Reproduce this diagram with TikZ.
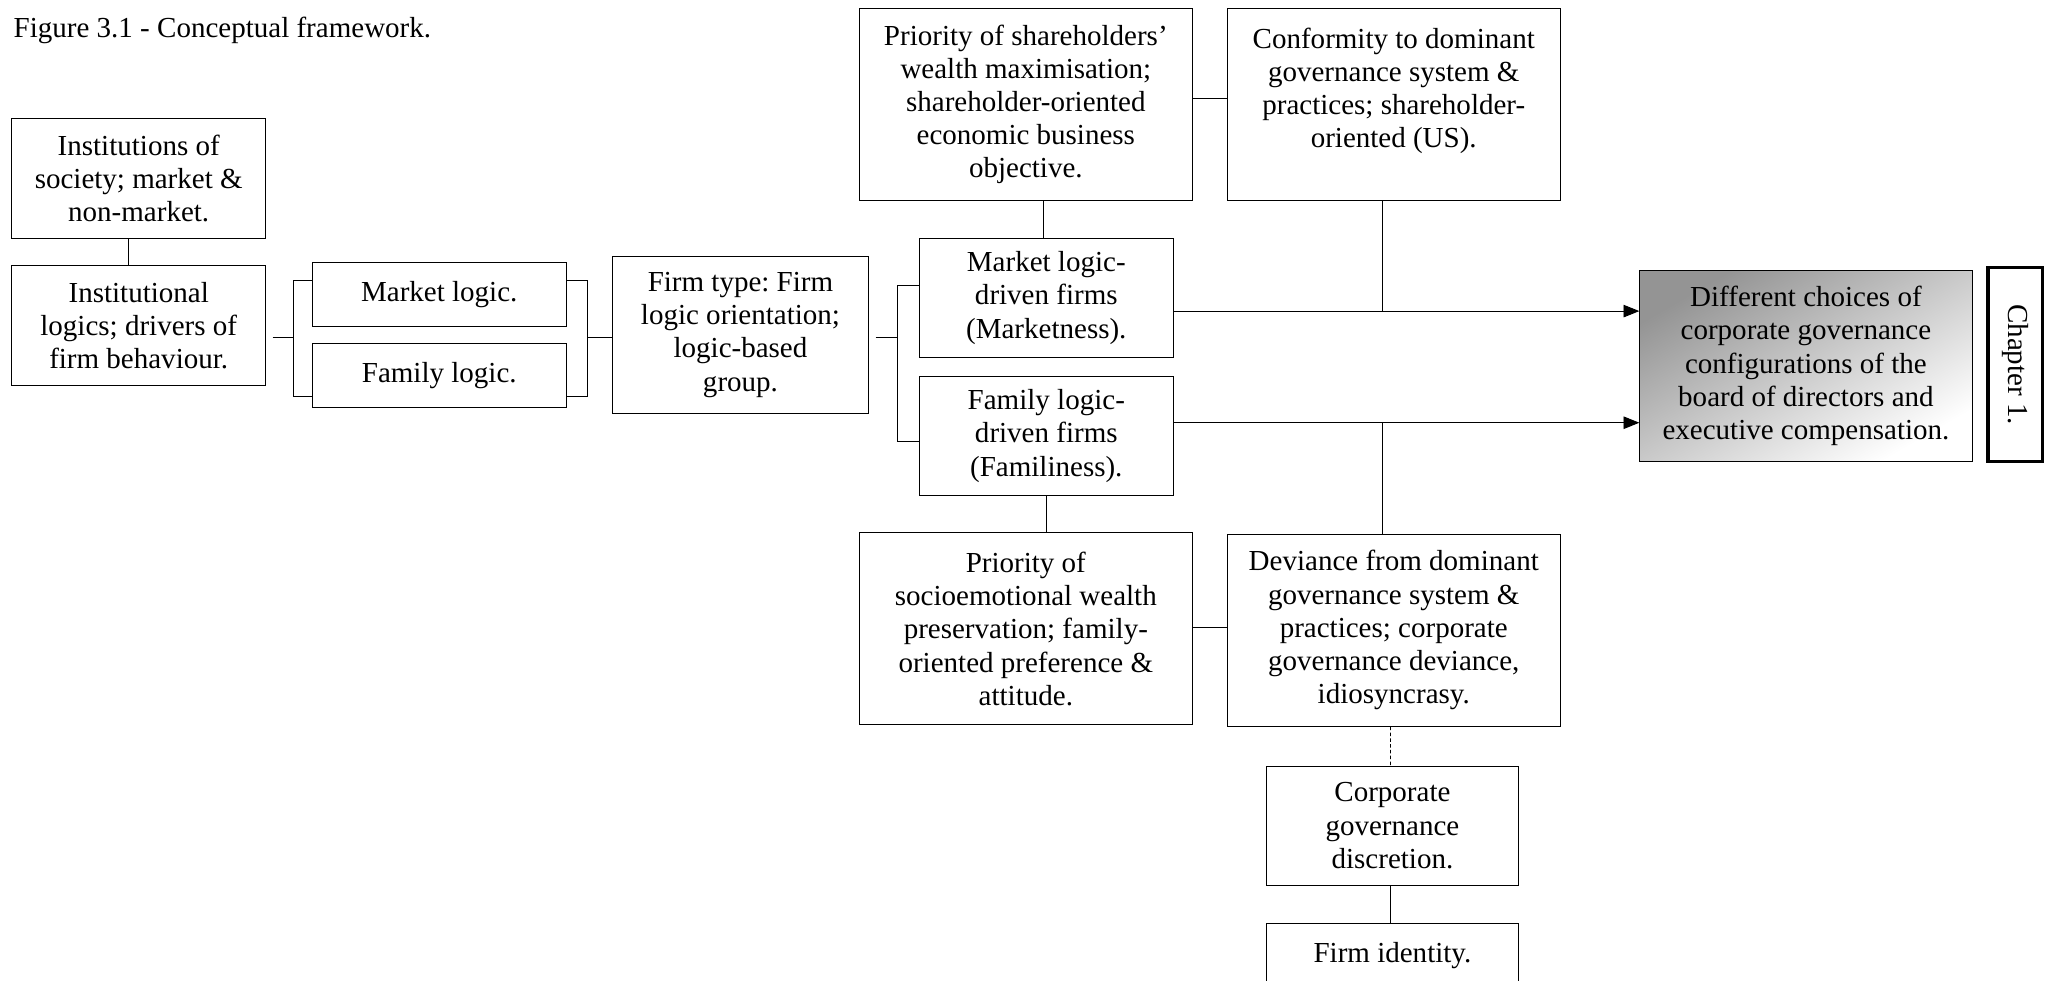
\documentclass[tikz,border=0pt]{standalone}
\usepackage{fontspec}
\setmainfont{Liberation Serif}
\usetikzlibrary{arrows.meta}
\frenchspacing

\tikzset{
  box/.style={draw, align=center, inner sep=1pt, font=\fontsize{12.5}{14.3}\selectfont},
  wide/.style={box, minimum width=5.05cm, minimum height=2.91cm},
  slim/.style={box, minimum width=3.84cm, minimum height=1.81cm},
  flat/.style={box, minimum width=3.84cm, minimum height=0.97cm},
  outcome/.style={box, top color=black!42, bottom color=white, shading angle=30,
                  minimum width=5.03cm, minimum height=2.89cm},
  stub/.style={line width=0.8pt},
  feed/.style={-{Triangle[length=0.24cm,width=0.19cm]}},
}

\begin{document}
\begin{tikzpicture}
            \useasboundingbox (0,0) rectangle (31.05,14.85);
            \node (title) at (0.2,14.39) [anchor=west, inner sep=0pt, font=\fontsize{12.5}{14.3}\selectfont] {Figure 3.1 - Conceptual framework.};
            % institutions and logics
            \node (inst) at (2.10,12.15) [slim] {Institutions of\\society; market \&\\non-market.};
            \node (logics) at (2.10,9.92) [slim] {Institutional\\logics; drivers of\\firm behaviour.};
            \node (mkt) at (6.65,10.39) [flat] {Market logic.};
            \node (fam) at (6.65,9.16) [flat] {Family logic.};
            \node (type) at (11.21,9.78) [box, minimum width=3.88cm, minimum height=2.38cm] {Firm type: Firm\\logic orientation;\\logic-based\\group.};
            % firm types and their priorities
            \node (prioS) at (15.53,13.27) [wide] {Priority of shareholders’\\wealth maximisation;\\shareholder-oriented\\economic business\\objective.};
            \node (conf) at (21.10,13.27) [wide] {Conformity to dominant\\governance system \&\\practices; shareholder-\\oriented (US).\\\mbox{}};
            \node (mfirm) at (15.84,10.34) [slim] {Market logic-\\driven firms\\(Marketness).};
            \node (ffirm) at (15.84,8.25) [slim] {Family logic-\\driven firms\\(Familiness).};
            \node (prioF) at (15.53,5.33) [wide] {Priority of\\socioemotional wealth\\preservation; family-\\oriented preference \&\\attitude.};
            \node (dev) at (21.10,5.31) [wide] {Deviance from dominant\\governance system \&\\practices; corporate\\governance deviance,\\idiosyncrasy.};
            \node (disc) at (21.08,2.35) [box, minimum width=3.82cm, minimum height=1.80cm] {Corporate\\governance\\discretion.};
            \node (ident) at (21.08,0.39) [box, minimum width=3.82cm, minimum height=0.97cm] {Firm identity.};
            % outcome
            \node (result) at (27.34,9.31) [outcome] {Different choices of\\corporate governance\\configurations of the\\board of directors and\\executive compensation.};
            \node (chap) at (30.51,9.33) [box, line width=1.4pt, rotate=-90, minimum width=2.93cm, minimum height=0.83cm] {Chapter 1.};

            % brackets
            \coordinate (bl) at (4.44,9.74);
            \coordinate (br) at (8.89,9.74);
            \coordinate (bt) at (13.58,9.74);
            \draw ([xshift=-0.16cm]inst.south) -- ([xshift=-0.16cm]logics.north);
            \draw [stub] ([xshift=0.1cm]logics.east |- bl) -- (bl);
            \draw ([yshift=0.22cm]mkt.west) -| (bl) |- ([yshift=-0.31cm]fam.west);
            \draw ([yshift=0.22cm]mkt.east) -| (br) |- ([yshift=-0.31cm]fam.east);
            \draw [stub] (br) -- (type.west |- br);
            \draw [stub] ([xshift=0.1cm]type.east |- bt) -- (bt);
            \draw ([yshift=0.19cm]mfirm.west) -| (bt) |- ([yshift=-0.09cm]ffirm.west);

            % links and arrows
            \coordinate (jm) at (20.93,10.14);
            \coordinate (jf) at (20.93,8.45);
            \draw ([xshift=-0.05cm]mfirm.north) -- ([xshift=-0.05cm]mfirm.north |- prioS.south);
            \draw (prioS.east |- 0,13.36) -- (conf.west |- 0,13.36);
            \draw [feed] (mfirm.east |- jm) -- (result.west |- jm);
            \draw (jm) -- (jm |- conf.south);
            \draw [feed] (ffirm.east |- jf) -- (result.west |- jf);
            \draw (jf) -- (jf |- dev.north);
            \draw (ffirm.south) -- (ffirm.south |- prioF.north);
            \draw (prioF.east |- 0,5.35) -- (dev.west |- 0,5.35);
            \draw [dash pattern=on 1.5pt off 1pt] ([xshift=-0.05cm]dev.south) -- ([xshift=-0.03cm]disc.north);
            \draw ([xshift=-0.03cm]disc.south) -- ([xshift=-0.03cm]ident.north);
        \end{tikzpicture}
\end{document}
